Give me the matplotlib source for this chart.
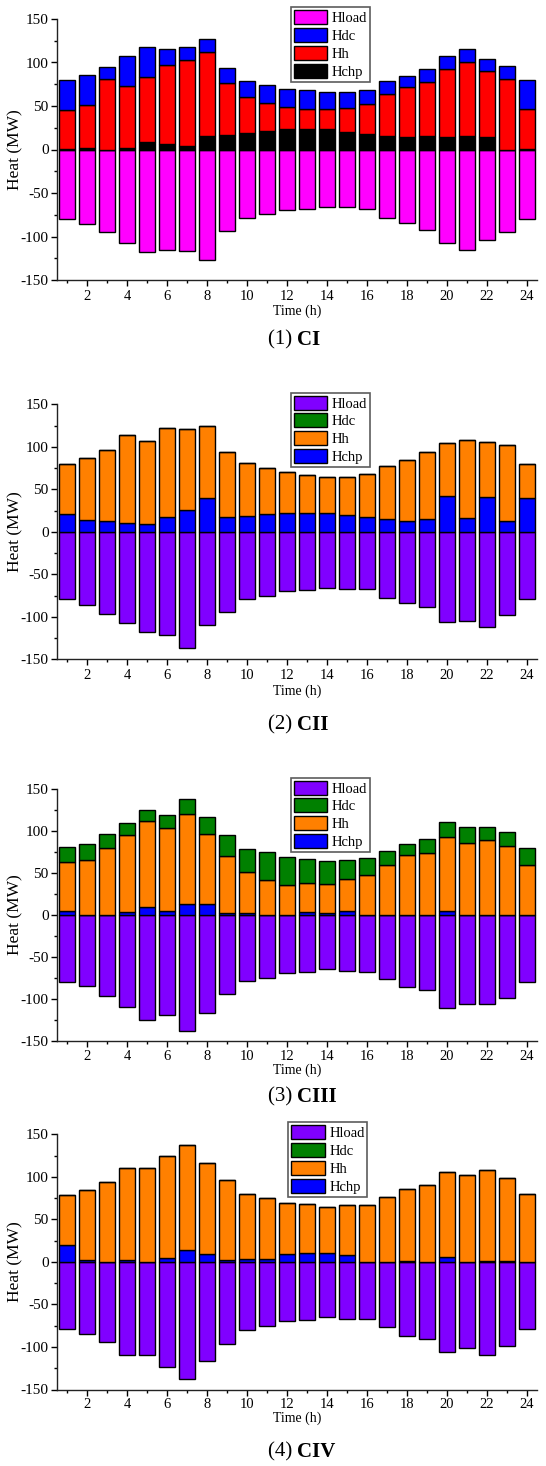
import matplotlib
matplotlib.use("Agg")
import matplotlib.pyplot as plt
from matplotlib.ticker import MultipleLocator
import numpy as np

plt.rcParams['font.family'] = ['Liberation Serif', 'DejaVu Serif']
plt.rcParams['axes.unicode_minus'] = False

hours = list(range(1, 25))
series_names = ["Hload", "Hdc", "Hh", "Hchp"]

# (1) CI
load1 = [-80, -86, -95, -108, -118, -115, -117, -127, -94, -79, -74, -69,
         -68, -66, -66, -68, -79, -85, -92, -107, -116, -104, -95, -80]
chp1 = [1, 2, 0, 2, 9, 6, 4, 15, 17, 19, 21, 23, 23, 23, 20, 18, 16, 14, 16, 14, 16, 14, 0, 1]
hh1 = [44, 49, 81, 71, 74, 91, 99, 97, 59, 41, 33, 26, 24, 24, 28, 34, 48, 58, 62, 78, 85, 76, 81, 45]
dc1 = [35, 35, 14, 35, 35, 18, 15, 15, 18, 19, 20, 20, 21, 19, 18, 16, 15, 13, 14, 15, 15, 14, 15, 34]

# (2) CII
load2 = [-79, -86, -96, -107, -118, -121, -136, -109, -94, -79, -75, -69,
         -68, -66, -67, -67, -78, -84, -88, -106, -105, -112, -98, -79]
chp2 = [21, 14, 13, 10, 9, 17, 26, 40, 17, 19, 21, 22, 22, 22, 20, 18, 15, 13, 15, 42, 16, 41, 13, 40]
hh2 = [59, 73, 83, 104, 98, 105, 95, 84, 77, 62, 54, 48, 45, 43, 45, 50, 63, 72, 79, 63, 92, 65, 89, 40]
dc2 = [0] * 24

# (3) CIII
load3 = [-80, -85, -97, -110, -125, -119, -139, -117, -95, -79, -75, -69,
         -68, -65, -67, -68, -77, -86, -90, -111, -106, -106, -99, -80]
chp3 = [5, 0, 0, 4, 9, 5, 13, 13, 2, 2, 0, 0, 3, 2, 5, 0, 0, 0, 0, 5, 0, 0, 0, 0]
hh3 = [58, 65, 80, 92, 103, 99, 108, 84, 68, 49, 42, 36, 35, 35, 38, 48, 60, 71, 74, 88, 86, 89, 82, 60]
dc3 = [18, 20, 17, 14, 13, 15, 18, 20, 25, 28, 33, 33, 29, 27, 23, 20, 16, 14, 17, 18, 19, 16, 17, 20]

# (4) CIV
load4 = [-79, -85, -94, -110, -110, -124, -138, -117, -96, -80, -75, -69,
         -68, -65, -67, -67, -77, -87, -91, -106, -101, -109, -99, -79]
chp4 = [20, 2, 0, 2, 0, 4, 14, 9, 2, 3, 3, 9, 11, 10, 8, 0, 0, 0.5, 0, 6, 0, 1, 1, 0]
hh4 = [59, 83, 94, 108, 110, 120, 124, 107, 94, 77, 72, 60, 57, 55, 59, 67, 76, 85.5, 90, 100, 102, 107, 98, 80]
dc4 = [0] * 24

captions = [("(1) ", "CI"), ("(2) ", "CII"), ("(3) ", "CIII"), ("(4) ", "CIV")]

colors_1 = {"Hload": "#FF00FF", "Hdc": "#0000FF", "Hh": "#FF0000", "Hchp": "#000000"}
colors_2 = {"Hload": "#8000FF", "Hdc": "#008000", "Hh": "#FF8000", "Hchp": "#0000FF"}

panels = [
    (load1, chp1, hh1, dc1, colors_1),
    (load2, chp2, hh2, dc2, colors_2),
    (load3, chp3, hh3, dc3, colors_2),
    (load4, chp4, hh4, dc4, colors_2),
]

W, H = 546, 1466
fig = plt.figure(figsize=(W / 100, H / 100), dpi=100)

# pixel layout: (y of +150, y of -150, legend top y, legend left x, ticklabel y, xlabel y, caption y)
layout = [
    (19.0, 280.0, 7.3, 290.7, 296, 311, 340),
    (404.3, 659.5, 392.7, 290.7, 676, 691, 725),
    (789.3, 1040.5, 777.7, 290.7, 1056, 1070, 1097),
    (1134.3, 1389.5, 1122.3, 288.3, 1404, 1418, 1452),
]
ax_left, ax_right = 57, 537

def fx(px):
    return px / W

def fy(py):
    return 1 - py / H

for (load, chp, hh, dc, cols), (ytop, ybot, legy, legx, tly, xly, capy), cap in zip(panels, layout, captions):
    ax = fig.add_axes([fx(ax_left), fy(ybot), fx(ax_right - ax_left), (ybot - ytop) / H])
    x = np.array(hours)
    chp_a = np.array(chp, dtype=float)
    hh_a = np.array(hh, dtype=float)
    dc_a = np.array(dc, dtype=float)
    kw = dict(width=0.8, edgecolor='black', linewidth=1.0)
    b_load = ax.bar(x, load, color=cols["Hload"], **kw)
    b_chp = ax.bar(x, chp_a, color=cols["Hchp"], **kw)
    b_hh = ax.bar(x, hh_a, bottom=chp_a, color=cols["Hh"], **kw)
    b_dc = ax.bar(x, dc_a, bottom=chp_a + hh_a, color=cols["Hdc"], **kw)

    ax.set_xlim(0.5, 24.5)
    ax.set_ylim(-150, 150)
    ax.xaxis.set_major_locator(MultipleLocator(2))
    ax.xaxis.set_minor_locator(MultipleLocator(1))
    ax.yaxis.set_major_locator(MultipleLocator(50))
    ax.yaxis.set_minor_locator(MultipleLocator(25))
    for s in ['top', 'right']:
        ax.spines[s].set_visible(False)
    for s in ['left', 'bottom']:
        ax.spines[s].set_linewidth(1.0)
        ax.spines[s].set_color('#222222')
    ax.tick_params(which='major', direction='out', length=4, width=1, labelsize=11, pad=2)
    ax.tick_params(which='minor', direction='out', length=2.5, width=1)
    ax.set_xticklabels([])
    # tick labels placed manually to match reference vertical position
    for t in range(2, 25, 2):
        fig.text(fx(ax_left + (t - 0.5) * 20), fy(tly), str(t), ha='center', va='center', fontsize=10.5)
    ax.set_ylabel("Heat (MW)", fontsize=12.5, labelpad=1)
    ax.yaxis.set_label_coords((23 - ax_left) / (ax_right - ax_left), 0.5)

    fig.text(fx(297), fy(xly), "Time (h)", ha='center', va='center', fontsize=10)
    fig.text(fx(297), fy(capy), cap[0], ha='right', va='center', fontsize=15)
    fig.text(fx(297), fy(capy), cap[1], ha='left', va='center', fontsize=15, fontweight='bold')

    leg = fig.legend([b_load, b_dc, b_hh, b_chp], series_names, loc='upper left',
                     bbox_to_anchor=(fx(legx), fy(legy)), bbox_transform=fig.transFigure,
                     fontsize=10.5, frameon=True, fancybox=False, edgecolor='#333333',
                     borderpad=0.2, labelspacing=0.2, handlelength=2.3, handleheight=1.1,
                     handletextpad=0.3, borderaxespad=0)
    leg.get_frame().set_linewidth(1.2)

fig.savefig("out.png", dpi=100)
